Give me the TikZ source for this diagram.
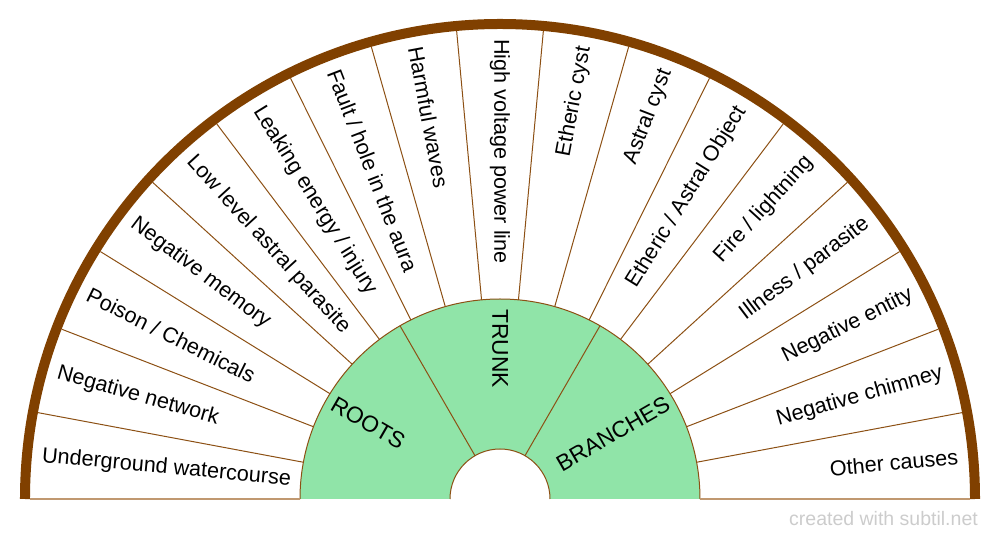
\documentclass[tikz,border=0pt]{standalone}
\usepackage{fontspec}
\setmainfont{Liberation Sans}
\definecolor{gfill}{RGB}{144,228,168}
\definecolor{rim}{RGB}{128,64,0}
\definecolor{divline}{RGB}{140,80,20}
\definecolor{baseln}{RGB}{192,152,112}
\definecolor{wm}{RGB}{204,204,204}
\begin{document}
\begin{tikzpicture}[x=1pt,y=1pt,
  lbl/.style={font=\fontsize{21.6}{24}\selectfont, inner sep=0pt, text=black},
  glbl/.style={font=\fontsize{22.8}{25}\selectfont, inner sep=0pt, text=black},
  divider/.style={draw=divline, line width=1},
  rimline/.style={draw=rim, line width=10},
  baseline/.style={draw=baseln, line width=1.5}]
\useasboundingbox (-500,-41) rectangle (500,499);
% green core
\fill[gfill] (180:200) arc (180:0:200) -- (0:50) arc (0:180:50) -- cycle;
\draw[divider] (180:200) arc (180:0:200);
\draw[divider] (0:50) arc (0:180:50);
\draw[divider] (120:50) -- (120:200);
\draw[divider] (60:50) -- (60:200);
% ring dividers
\foreach \k in {1,...,16}{
  \pgfmathsetmacro\ang{180-\k*180/17}
  \draw[divider] (\ang:200) -- (\ang:470);
}
% baseline
\draw[baseline] (-470,0) -- (-200,0);
\draw[baseline] (200,0) -- (470,0);
% rim
\draw[rimline] (180:475) arc (180:0:475);
% ring labels
\foreach \t [count=\i from 0] in {Underground watercourse, Negative network, Poison / Chemicals, Negative memory, Low level astral parasite, Leaking energy / injury, Fault / hole in the aura, Harmful waves, High voltage power line, Etheric cyst, Astral cyst, Etheric / Astral Object, Fire / lightning, Illness / parasite, Negative entity, Negative chimney, Other causes}{
  \pgfmathsetmacro\ang{180-(\i+0.5)*180/17}
  \pgfmathsetmacro\rot{\ang-180}
  \ifnum\i<9
    \node[lbl, anchor=west, rotate=\rot] (l\i) at (\ang:460) {\t};
  \else
    \node[lbl, anchor=east, rotate=\ang] (l\i) at (\ang:460) {\t};
  \fi
}
% core labels
\node[glbl, anchor=west, rotate=-30] (roots) at (150:193) {ROOTS};
\node[glbl, anchor=west, rotate=-90] (trunk) at (90:190) {TRUNK};
\node[glbl, anchor=east, rotate=30] (branches) at (30:194) {BRANCHES};
% watermark
\node[font=\fontsize{19.5}{22}\selectfont, text=wm, inner sep=0pt, anchor=east] (wmark) at (478,-20) {created with subtil.net};
\end{tikzpicture}
\end{document}
